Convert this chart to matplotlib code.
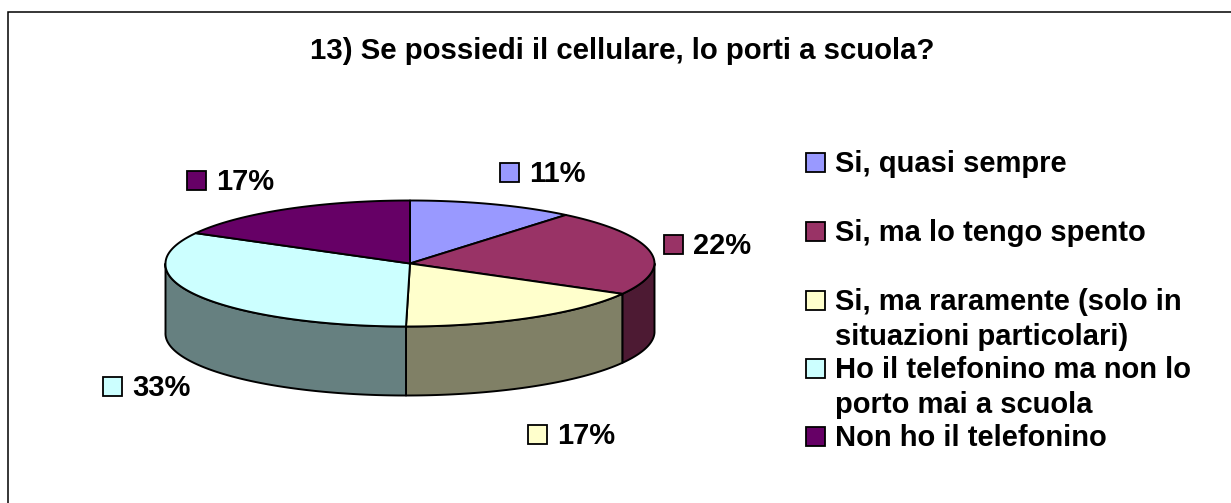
import numpy as np
import matplotlib
matplotlib.use("Agg")
import matplotlib.pyplot as plt
from matplotlib.colors import to_rgb
from matplotlib.patches import Polygon, Rectangle

plt.rcParams["font.family"] = ["Liberation Sans", "DejaVu Sans"]

title = "13) Se possiedi il cellulare, lo porti a scuola?"
categories = [
    "Si, quasi sempre",
    "Si, ma lo tengo spento",
    "Si, ma raramente (solo in\nsituazioni particolari)",
    "Ho il telefonino ma non lo\nporto mai a scuola",
    "Non ho il telefonino",
]
shares = [11, 22, 17, 33, 17]
colors = ["#9999FF", "#993366", "#FFFFCC", "#CCFFFF", "#660066"]

# pie geometry, in pixels of the picture
cx, cy = 410, 263.5
rx, ry = 244.5, 63
depth = 69
lean = 4

# where the labels sit, top left of the little square
label_x = [500, 664, 528, 103, 187]
label_y = [163, 235, 425, 377, 171]
legend_y = [153, 222, 291, 359, 427]
box = 19
fs = 21

fig = plt.figure(figsize=(12.31, 5.03), dpi=100)
ax = fig.add_axes([0, 0, 1, 1])
ax.set_xlim(0, 1231)
ax.set_ylim(503, 0)
ax.axis("off")


def rim(t):
    # t in radians, clockwise from the top of the ellipse
    x = cx + rx * np.sin(t) + lean * np.minimum(np.cos(t), 0)
    y = cy - ry * np.cos(t)
    return np.column_stack([x, y])


cum = np.cumsum([0] + shares) / sum(shares) * 2 * np.pi

# sides first, only the front half of the pie shows them
for i in range(len(shares)):
    t0, t1 = max(cum[i], np.pi / 2), min(cum[i + 1], 3 * np.pi / 2)
    if t1 <= t0:
        continue
    arc = rim(np.linspace(t0, t1, 100))
    low = arc[::-1] + [0, depth]
    dark = np.array(to_rgb(colors[i])) * 0.5
    ax.add_patch(Polygon(np.vstack([arc, low]), fc=dark, ec="k", lw=1.4, joinstyle="round"))

# top
for i in range(len(shares)):
    arc = rim(np.linspace(cum[i], cum[i + 1], 100))
    ax.add_patch(Polygon(np.vstack([[cx, cy], arc]), fc=colors[i], ec="k", lw=1.4, joinstyle="round"))

# frame, only left and top are inside the picture
ax.plot([8, 8, 1231], [503, 11.5, 11.5], color="k", lw=1.1, solid_joinstyle="miter")

ax.text(622, 59, title, fontsize=21.2, fontweight="bold", ha="center", va="baseline")

for i, share in enumerate(shares):
    ax.add_patch(Rectangle((label_x[i], label_y[i]), box, box, fc=colors[i], ec="k", lw=1.3))
    ax.text(label_x[i] + 29, label_y[i] + box, f"{share}%", fontsize=fs, fontweight="bold", va="baseline")

for i, name in enumerate(categories):
    ax.add_patch(Rectangle((806, legend_y[i]), box, box, fc=colors[i], ec="k", lw=1.3))
    for n, line in enumerate(name.split("\n")):
        ax.text(835, legend_y[i] + box + n * 35, line, fontsize=fs, fontweight="bold", va="baseline")

fig.savefig("out.png", dpi=100)
